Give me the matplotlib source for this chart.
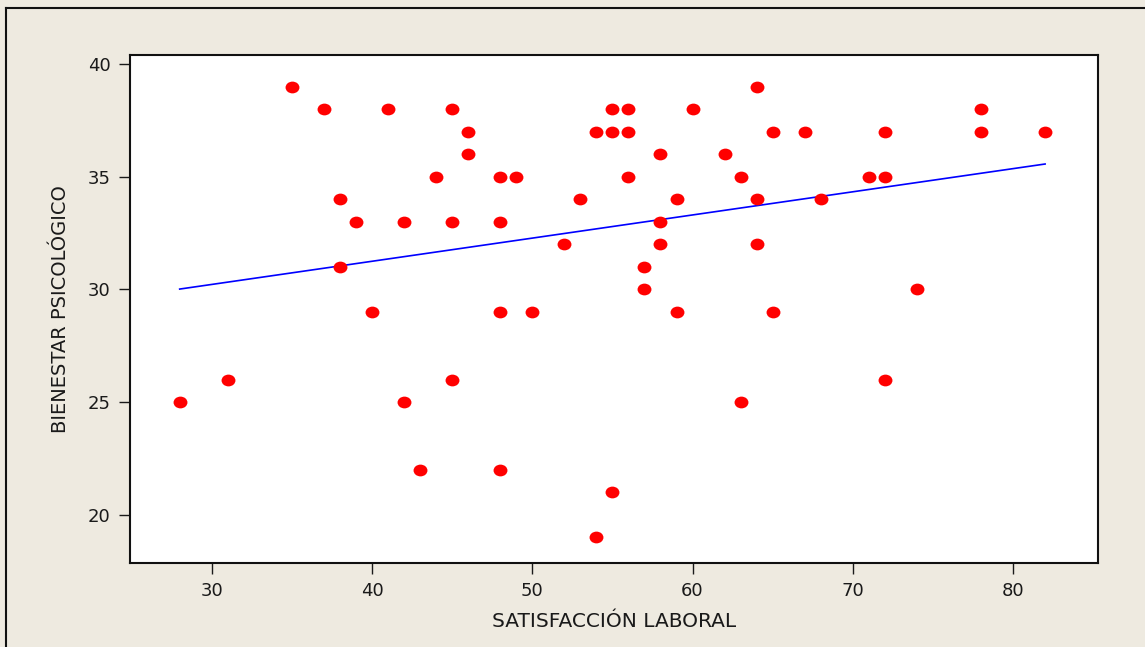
import numpy as np
import matplotlib.pyplot as plt
from matplotlib.path import Path
from matplotlib.transforms import Affine2D
from matplotlib.lines import Line2D

# satisfaccion laboral (x) vs bienestar psicologico (y)
satisfaccion = [35, 37, 41, 45, 55, 56, 46, 54, 55, 56, 46, 44, 48, 49, 56, 38, 53,
                39, 42, 45, 48, 52, 38, 40, 48, 50, 31, 45, 28, 42, 43, 48, 55, 54,
                64, 60, 65, 67, 72, 78, 78, 82, 58, 62, 63, 71, 72, 59, 64, 68, 58,
                58, 64, 57, 57, 74, 59, 65, 72, 63]
bienestar = [39, 38, 38, 38, 38, 38, 37, 37, 37, 37, 36, 35, 35, 35, 35, 34, 34,
             33, 33, 33, 33, 32, 31, 29, 29, 29, 26, 26, 25, 25, 22, 22, 21, 19,
             39, 38, 37, 37, 37, 38, 37, 37, 36, 36, 35, 35, 35, 34, 34, 34, 33,
             32, 32, 31, 30, 30, 29, 29, 26, 25]

# fitted line
fit_x = [28, 82]
fit_intercept = 27.14
fit_slope = 0.1028

bg = '#EEEAE0'
fig = plt.figure(figsize=(11.45, 6.47), dpi=100, facecolor=bg)
ax = fig.add_axes([130 / 1145, 1 - 563 / 647, (1098 - 130) / 1145, (563 - 54.5) / 647])

# slightly wide ellipse marker
ell = Path.unit_circle().transformed(Affine2D().scale(1.18, 1.0))
ax.plot(satisfaccion, bienestar, linestyle='none', marker=ell, markersize=10,
        color='#FF0000', markeredgewidth=0, zorder=3)

fx = np.array(fit_x, dtype=float)
ax.plot(fx, fit_intercept + fit_slope * fx, color='#0000FF', lw=1.2, zorder=2)

ax.set_xlim(24.9, 85.3)
ax.set_ylim(17.86, 40.43)
ax.set_xticks([30, 40, 50, 60, 70, 80])
ax.set_yticks([20, 25, 30, 35, 40])
ax.tick_params(direction='out', length=8, width=1, labelsize=13, colors='#1a1a1a', pad=6)
for s in ax.spines.values():
    s.set_linewidth(1.5)
    s.set_color('#111111')

ax.set_xlabel('SATISFACCIÓN LABORAL', fontsize=14.5, labelpad=8, color='#1a1a1a')
ax.set_ylabel('BIENESTAR PSICOLÓGICO', fontsize=14, labelpad=13, color='#1a1a1a')

# outer frame: only top and left edges are visible
fig.add_artist(Line2D([6 / 1145, 6 / 1145], [0, 1 - 8 / 647], transform=fig.transFigure,
                      color='#111111', lw=1.5))
fig.add_artist(Line2D([6 / 1145, 1], [1 - 8 / 647, 1 - 8 / 647], transform=fig.transFigure,
                      color='#111111', lw=1.5))

fig.savefig('out.png', dpi=100, facecolor=bg)
